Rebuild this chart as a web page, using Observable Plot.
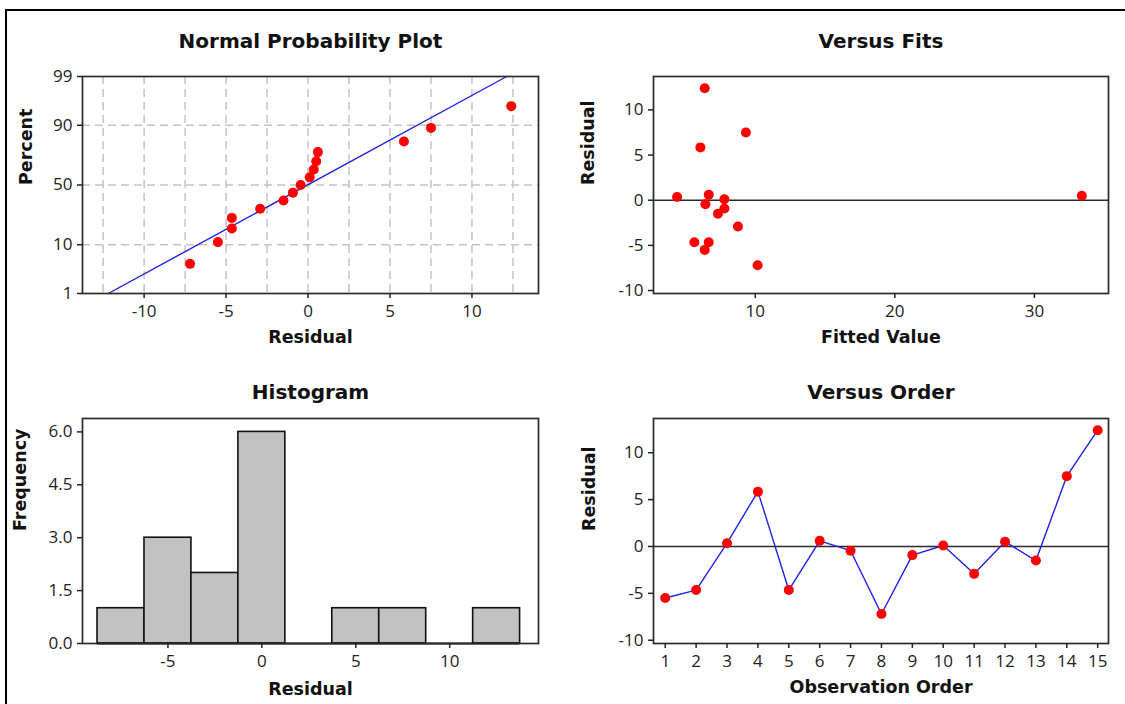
<!DOCTYPE html>
<html><head><meta charset="utf-8">
<script src="https://cdn.jsdelivr.net/npm/d3@7"></script>
<script src="https://cdn.jsdelivr.net/npm/@observablehq/plot@0.6"></script>
<style>
html,body{margin:0;padding:0;background:#fff;}
#wrap{position:relative;width:1125px;height:704px;overflow:hidden;background:#fff;}
#border{position:absolute;left:5px;top:9px;width:1300px;height:900px;border-left:2px solid #000;border-top:2px solid #000;}
#wrap svg{position:absolute;}
</style></head><body><div id="wrap"><div id="border"></div></div>
<script>
// ---- data ----
const observation = [1,2,3,4,5,6,7,8,9,10,11,12,13,14,15];
const residual = [-5.5,-4.65,0.35,5.85,-4.65,0.6,-0.45,-7.2,-0.92,0.1,-2.92,0.5,-1.5,7.5,12.4];
const fitted = [6.38,5.64,4.4,6.07,6.67,6.67,6.43,10.17,7.79,7.79,8.76,33.4,7.33,9.33,6.38];
const histCenter = [-7.5,-5,-2.5,0,2.5,5,7.5,10,12.5];
const histCount = [1,3,2,6,0,1,1,0,1];
const percentTicks = [1,10,50,90,99];
const percentGrid = [10,50,90];
const npGridX = [-12.5,-10,-7.5,-5,-2.5,0,2.5,5,7.5,10,12.5];
const npTicksX = [-10,-5,0,5,10];
const residTicks = [-10,-5,0,5,10];
const fitTicks = [10,20,30];
const histTicksX = [-5,0,5,10];
const histTicksY = [0,1.5,3,4.5,6];

// inverse normal CDF (Acklam)
function probit(p){
  const a=[-3.969683028665376e+01,2.209460984245205e+02,-2.759285104469687e+02,1.383577518672690e+02,-3.066479806614716e+01,2.506628277459239e+00];
  const b=[-5.447609879822406e+01,1.615858368580409e+02,-1.556989798598866e+02,6.680131188771972e+01,-1.328068155288572e+01];
  const c=[-7.784894002430293e-03,-3.223964580411365e-01,-2.400758277161838e+00,-2.549732539343734e+00,4.374664141464968e+00,2.938163982698783e+00];
  const d=[7.784695709041462e-03,3.224671290700398e-01,2.445134137142996e+00,3.754408661907416e+00];
  const pl=0.02425, ph=1-pl; let q,r;
  if(p<pl){q=Math.sqrt(-2*Math.log(p));return (((((c[0]*q+c[1])*q+c[2])*q+c[3])*q+c[4])*q+c[5])/((((d[0]*q+d[1])*q+d[2])*q+d[3])*q+1);}
  if(p<=ph){q=p-0.5;r=q*q;return (((((a[0]*r+a[1])*r+a[2])*r+a[3])*r+a[4])*r+a[5])*q/(((((b[0]*r+b[1])*r+b[2])*r+b[3])*r+b[4])*r+1);}
  q=Math.sqrt(-2*Math.log(1-p));return -(((((c[0]*q+c[1])*q+c[2])*q+c[3])*q+c[4])*q+c[5])/((((d[0]*q+d[1])*q+d[2])*q+d[3])*q+1);
}

const n = residual.length;
const sorted = residual.slice().sort(d3.ascending);
const npData = sorted.map((r,i)=>({r, z: probit((i+1-0.3)/(n+0.4))}));
const mu = d3.mean(residual), sd = d3.deviation(residual);
const zLo = probit(0.01), zHi = probit(0.99);
const fitLine = [{r: mu+sd*zLo, z: zLo},{r: mu+sd*zHi, z: zHi}];
const obsData = observation.map((o,i)=>({o, res: residual[i], fit: fitted[i]}));
const histData = histCenter.map((c,i)=>({x1: c-1.25, x2: c+1.25, count: histCount[i]}));

const FONT_TICK = "'Open Sans', 'DejaVu Sans', sans-serif";
const FONT_BOLD = "'DejaVu Sans', 'Liberation Sans', sans-serif";
const RED = "#ff0000", BLUE = "#2020e8", FRAME = "#2a2a2a";
const style = {fontFamily: FONT_TICK, fontSize: "17px", color: "#222", background: "transparent", overflow: "visible"};

function title(t, dy){ return Plot.text([t], {frameAnchor:"top", dy, text:d=>d, fontFamily:FONT_BOLD, fontWeight:"bold", fontSize:20, fill:"#111", lineAnchor:"middle"}); }
function xLabel(t, dy){ return Plot.text([t], {frameAnchor:"bottom", dy, text:d=>d, fontFamily:FONT_BOLD, fontWeight:"bold", fontSize:17.5, fill:"#111", lineAnchor:"middle"}); }
function yLabel(t, dx){ return Plot.text([t], {frameAnchor:"left", dx, rotate:-90, text:d=>d, fontFamily:FONT_BOLD, fontWeight:"bold", fontSize:17.5, fill:"#111", lineAnchor:"middle"}); }
const fmt = d => String(d);
const axX = (ticks, f=fmt) => Plot.axisX({ticks, tickFormat:f, tickSize:5, tickPadding:6, strokeWidth:1.5, label:null});
const axY = (ticks, f=fmt) => Plot.axisY({ticks, tickFormat:f, tickSize:5, tickPadding:5, strokeWidth:1.5, label:null});
const frame = () => Plot.frame({stroke: FRAME, strokeWidth: 1.7});

// ---- Normal Probability Plot ----
const np = Plot.plot({
  width:560, height:360, marginLeft:82, marginRight:22, marginTop:76, marginBottom:67,
  style,
  x:{domain:[-13.76,14.06]}, y:{domain:[zLo,zHi]},
  marks:[
    Plot.ruleX(npGridX, {stroke:"#c4c4c4", strokeWidth:1.5, strokeDasharray:"8,5"}),
    Plot.ruleY(percentGrid.map(p=>probit(p/100)), {stroke:"#c4c4c4", strokeWidth:1.5, strokeDasharray:"8,5"}),
    Plot.line(fitLine, {x:"r", y:"z", stroke:BLUE, strokeWidth:1.4}),
    Plot.dot(npData, {x:"r", y:"z", r:5, fill:RED}),
    frame(),
    axX(npTicksX),
    axY(percentTicks.map(p=>probit(p/100)), d => String(percentTicks[d3.minIndex(percentTicks, p=>Math.abs(probit(p/100)-d))])),
    title("Normal Probability Plot", -35),
    xLabel("Residual", 44),
    yLabel("Percent", -56)
  ]
});
np.style.left = "0px"; np.style.top = "0px";

// ---- Versus Fits ----
const vf = Plot.plot({
  width:565, height:360, marginLeft:93, marginRight:17, marginTop:76, marginBottom:67,
  style,
  x:{domain:[2.71,35.31]}, y:{domain:[-10.33,13.7]},
  marks:[
    Plot.ruleY([0], {stroke:FRAME, strokeWidth:1.5}),
    Plot.dot(obsData, {x:"fit", y:"res", r:5, fill:RED}),
    frame(),
    axX(fitTicks),
    axY(residTicks),
    title("Versus Fits", -35),
    xLabel("Fitted Value", 44),
    yLabel("Residual", -65)
  ]
});
vf.style.left = "560px"; vf.style.top = "0px";

// ---- Histogram ----
const hi = Plot.plot({
  width:560, height:344, marginLeft:82, marginRight:22, marginTop:58, marginBottom:61,
  style,
  x:{domain:[-9.55,14.73]}, y:{domain:[0,6.38]},
  marks:[
    Plot.rect(histData, {x1:"x1", x2:"x2", y1:0, y2:"count", fill:"#c2c2c2", stroke:"#111", strokeWidth:1.6}),
    Plot.ruleY([0], {x1: histData[0].x1, x2: histData[histData.length-1].x2, stroke:"#111", strokeWidth:2.2}),
    frame(),
    axX(histTicksX),
    axY(histTicksY, d=>d.toFixed(1)),
    title("Histogram", -26),
    xLabel("Residual", 46),
    yLabel("Frequency", -62)
  ]
});
hi.style.left = "0px"; hi.style.top = "360px";

// ---- Versus Order ----
const vo = Plot.plot({
  width:565, height:344, marginLeft:93, marginRight:17, marginTop:58, marginBottom:61,
  style,
  x:{domain:[0.62,15.35]}, y:{domain:[-10.35,13.65]},
  marks:[
    Plot.ruleY([0], {stroke:FRAME, strokeWidth:1.5}),
    Plot.line(obsData, {x:"o", y:"res", stroke:BLUE, strokeWidth:1.4}),
    Plot.dot(obsData, {x:"o", y:"res", r:5, fill:RED}),
    frame(),
    axX(observation),
    axY(residTicks),
    title("Versus Order", -26),
    xLabel("Observation Order", 44),
    yLabel("Residual", -64)
  ]
});
vo.style.left = "560px"; vo.style.top = "360px";

const wrap = document.getElementById("wrap");
[np, vf, hi, vo].forEach(s => wrap.appendChild(s));
</script>
</body></html>
